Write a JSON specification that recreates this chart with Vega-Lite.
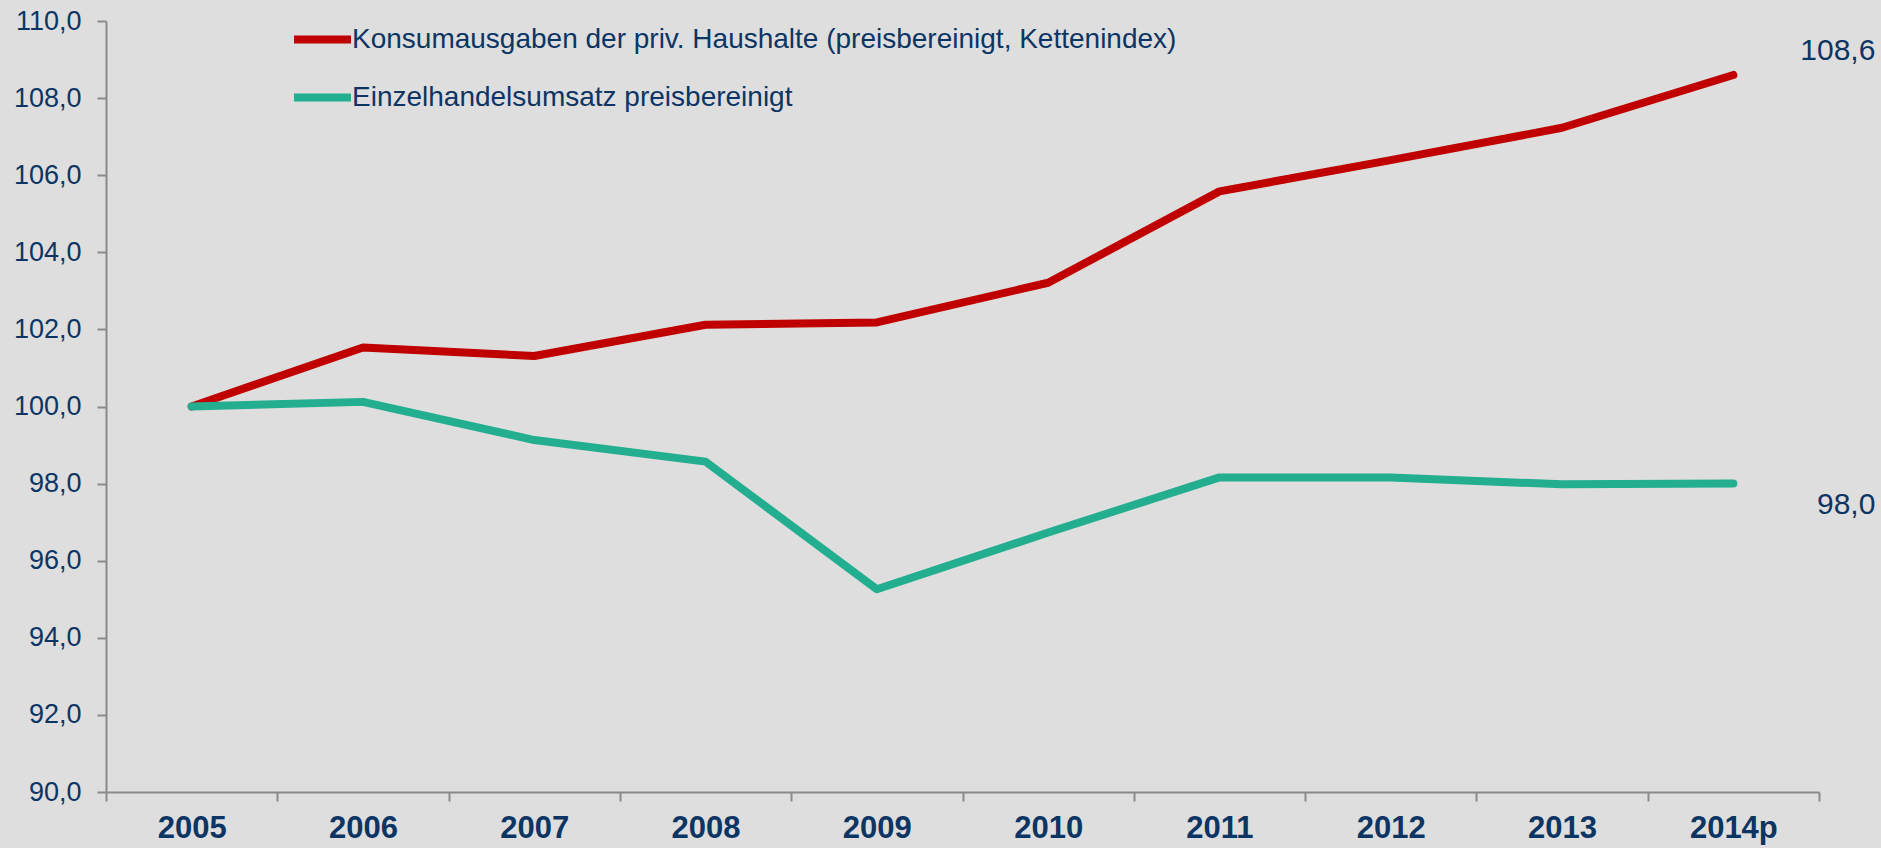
{
  "$schema": "https://vega.github.io/schema/vega-lite/v6.json",
  "autosize": {"type": "none"},
  "width": 1713,
  "height": 771,
  "padding": {"left": 106, "top": 21, "right": 62, "bottom": 56},
  "background": "#dedede",
  "config": {
    "font": "Liberation Sans",
    "locale": {"number": {"decimal": ",", "thousands": ".", "grouping": [3], "currency": ["", " €"]}},
    "view": {"stroke": null},
    "axis": {"grid": false, "domainColor": "#8a8a8a", "domainWidth": 2, "tickColor": "#8a8a8a", "tickWidth": 2, "tickSize": 9, "title": null}
  },
  "data": {
    "values": [
      {"Jahr": "2005", "Serie": "Konsumausgaben der priv. Haushalte (preisbereinigt, Kettenindex)", "Wert": 100.0},
      {"Jahr": "2006", "Serie": "Konsumausgaben der priv. Haushalte (preisbereinigt, Kettenindex)", "Wert": 101.53},
      {"Jahr": "2007", "Serie": "Konsumausgaben der priv. Haushalte (preisbereinigt, Kettenindex)", "Wert": 101.31},
      {"Jahr": "2008", "Serie": "Konsumausgaben der priv. Haushalte (preisbereinigt, Kettenindex)", "Wert": 102.12},
      {"Jahr": "2009", "Serie": "Konsumausgaben der priv. Haushalte (preisbereinigt, Kettenindex)", "Wert": 102.18},
      {"Jahr": "2010", "Serie": "Konsumausgaben der priv. Haushalte (preisbereinigt, Kettenindex)", "Wert": 103.21},
      {"Jahr": "2011", "Serie": "Konsumausgaben der priv. Haushalte (preisbereinigt, Kettenindex)", "Wert": 105.58},
      {"Jahr": "2012", "Serie": "Konsumausgaben der priv. Haushalte (preisbereinigt, Kettenindex)", "Wert": 106.39},
      {"Jahr": "2013", "Serie": "Konsumausgaben der priv. Haushalte (preisbereinigt, Kettenindex)", "Wert": 107.23},
      {"Jahr": "2014p", "Serie": "Konsumausgaben der priv. Haushalte (preisbereinigt, Kettenindex)", "Wert": 108.6},
      {"Jahr": "2005", "Serie": "Einzelhandelsumsatz preisbereinigt", "Wert": 100.0},
      {"Jahr": "2006", "Serie": "Einzelhandelsumsatz preisbereinigt", "Wert": 100.12},
      {"Jahr": "2007", "Serie": "Einzelhandelsumsatz preisbereinigt", "Wert": 99.13},
      {"Jahr": "2008", "Serie": "Einzelhandelsumsatz preisbereinigt", "Wert": 98.57},
      {"Jahr": "2009", "Serie": "Einzelhandelsumsatz preisbereinigt", "Wert": 95.26},
      {"Jahr": "2010", "Serie": "Einzelhandelsumsatz preisbereinigt", "Wert": 96.73},
      {"Jahr": "2011", "Serie": "Einzelhandelsumsatz preisbereinigt", "Wert": 98.16},
      {"Jahr": "2012", "Serie": "Einzelhandelsumsatz preisbereinigt", "Wert": 98.16},
      {"Jahr": "2013", "Serie": "Einzelhandelsumsatz preisbereinigt", "Wert": 97.98},
      {"Jahr": "2014p", "Serie": "Einzelhandelsumsatz preisbereinigt", "Wert": 98.0}
    ]
  },
  "encoding": {
    "x": {
      "field": "Jahr", "type": "ordinal", "sort": null,
      "scale": {"type": "band", "paddingInner": 0, "paddingOuter": 0},
      "axis": {"labelAngle": 0, "tickBand": "extent", "labelFontSize": 31, "labelFontWeight": "bold", "labelColor": "#0c3563", "labelPadding": 12}
    },
    "y": {
      "field": "Wert", "type": "quantitative",
      "scale": {"domain": [90, 110], "nice": false, "zero": false},
      "axis": {"values": [90, 92, 94, 96, 98, 100, 102, 104, 106, 108, 110], "format": ".1f", "labelFontSize": 27, "labelColor": "#0c3563", "labelPadding": 16}
    }
  },
  "layer": [
    {
      "mark": {"type": "line", "strokeWidth": 8, "strokeCap": "round", "strokeJoin": "round"},
      "encoding": {
        "color": {
          "field": "Serie", "type": "nominal",
          "scale": {"domain": ["Konsumausgaben der priv. Haushalte (preisbereinigt, Kettenindex)", "Einzelhandelsumsatz preisbereinigt"], "range": ["#c00000", "#22ae8f"]},
          "legend": {
            "title": null, "orient": "none", "legendX": 184, "legendY": -14, "direction": "vertical",
            "symbolType": "stroke", "symbolSize": 3249, "symbolStrokeWidth": 8,
            "labelFontSize": 28, "labelColor": "#0c3563", "labelOffset": -3, "labelLimit": 1200,
            "rowPadding": 9, "padding": 0
          }
        }
      }
    },
    {
      "transform": [{"filter": "datum.Jahr == '2014p' && datum.Wert > 100"}],
      "mark": {"type": "text", "align": "right", "baseline": "alphabetic", "dx": 142, "dy": -15, "fontSize": 30, "color": "#0c3563"},
      "encoding": {"text": {"field": "Wert", "type": "quantitative", "format": ".1f"}}
    },
    {
      "transform": [{"filter": "datum.Jahr == '2014p' && datum.Wert < 100"}],
      "mark": {"type": "text", "align": "right", "baseline": "alphabetic", "dx": 142, "dy": 30, "fontSize": 30, "color": "#0c3563"},
      "encoding": {"text": {"field": "Wert", "type": "quantitative", "format": ".1f"}}
    }
  ]
}
